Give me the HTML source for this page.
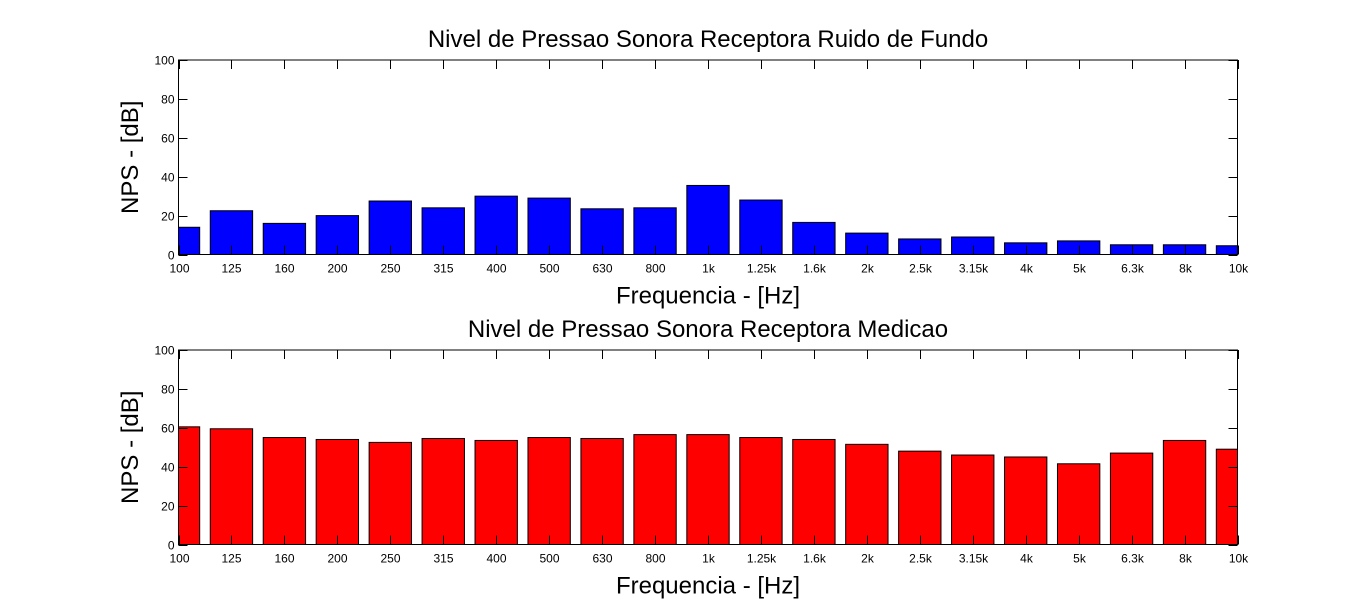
<!DOCTYPE html>
<html><head><meta charset="utf-8"><style>
body{margin:0;background:#fff;}
svg{display:block;font-family:"Liberation Sans",Arial,sans-serif;}
</style></head><body>
<svg id="chart" width="1366" height="611" viewBox="0 0 1366 611"></svg>
<script>
const categories=["100","125","160","200","250","315","400","500","630","800","1k","1.25k","1.6k","2k","2.5k","3.15k","4k","5k","6.3k","8k","10k"];
const backgroundValues=[14,22.5,16,20,27.5,24,30,29,23.5,24,35.5,28,16.5,11,8,9,6,7,5,5,4.5];
const measurementValues=[60.5,59.5,55,54,52.5,54.5,53.5,55,54.5,56.5,56.5,55,54,51.5,48,46,45,41.5,47,53.5,49];
const yTicks=[0,20,40,60,80,100];
const titles=["Nivel de Pressao Sonora Receptora Ruido de Fundo","Nivel de Pressao Sonora Receptora Medicao"];
const NS="http://www.w3.org/2000/svg";
const svg=document.getElementById('chart');
const L=178.5,R=1237.5;
function mk(tag,attrs,parent){const e=document.createElementNS(NS,tag);for(const k in attrs)e.setAttribute(k,attrs[k]);(parent||svg).appendChild(e);return e;}
function panel(top,bottom,values,color,title,idx){
  const g=mk('g',{});
  
  
  const x=i=>L+i*(R-L)/(categories.length-1);
  const y=v=>bottom-(v/100)*(bottom-top);
  const bw=(R-L)/(categories.length-1)*0.8;
  const clip=mk('clipPath',{id:'c'+idx},g);
  mk('rect',{x:L,y:top,width:R-L,height:bottom-top},clip);
  const bars=mk('g',{'clip-path':'url(#c'+idx+')'},g);
  values.forEach((v,i)=>{
    const r=mk('rect',{x:x(i)-bw/2,y:y(v),width:bw,height:y(0)-y(v),fill:color,stroke:'#000','stroke-width':1},bars);
    
    
  });
  const f=mk('rect',{x:L,y:top,width:R-L,height:bottom-top,fill:'none',stroke:'#000','stroke-width':1},g);
  
  
  yTicks.forEach(t=>{
    const yy=Math.round(y(t))+0.5;
    mk('line',{x1:L,x2:L+9,y1:yy,y2:yy,stroke:'#000'},g);
    mk('line',{x1:R,x2:R-9,y1:yy,y2:yy,stroke:'#000'},g);
    const tx=mk('text',{x:L-4,y:yy+4,'text-anchor':'end','font-size':12},g);
    tx.textContent=t;
    
    
  });
  categories.forEach((c,i)=>{
    const xx=Math.round(x(i))+0.5;
    mk('line',{x1:xx,x2:xx,y1:bottom,y2:bottom-9,stroke:'#000'},g);
    mk('line',{x1:xx,x2:xx,y1:top,y2:top+9,stroke:'#000'},g);
    const tx=mk('text',{x:xx,y:bottom+18,'text-anchor':'middle','font-size':12},g);
    tx.textContent=c;
    
    
  });
  const t=mk('text',{x:(L+R)/2,y:top-13,'text-anchor':'middle','font-size':24},g);
  t.textContent=title;
  
  
  const xl=mk('text',{x:(L+R)/2,y:bottom+49,'text-anchor':'middle','font-size':24},g);
  xl.textContent='Frequencia - [Hz]';
  
  
  const cy=(top+bottom)/2;
  const yl=mk('text',{x:138,y:cy,'text-anchor':'middle','font-size':24,transform:'rotate(-90 138 '+cy+')'},g);
  yl.textContent='NPS - [dB]';
  
  
}
panel(60,254.5,backgroundValues,'#0000ff',titles[0],0);
panel(350,544.5,measurementValues,'#ff0000',titles[1],1);
</script>
</body></html>
